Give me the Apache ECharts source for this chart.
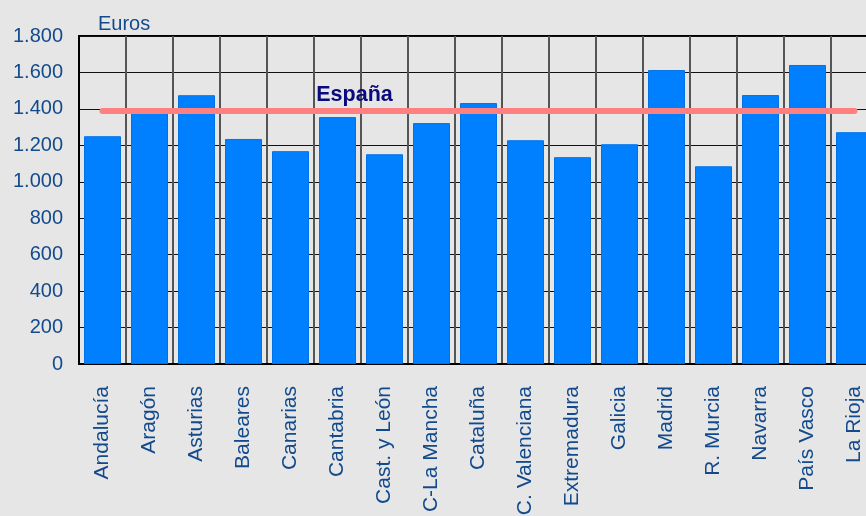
<!DOCTYPE html>
<html>
<head>
<meta charset="utf-8">
<script src="https://cdn.jsdelivr.net/npm/echarts@6/dist/echarts.min.js"></script>
<style>
  html, body { margin: 0; padding: 0; background: #e6e6e6; }
  #chart { width: 866px; height: 516px; }
</style>
</head>
<body>
<div id="chart"></div>
<script>
// comunidades autónomas
const regions = [
  'Andalucía', 'Aragón', 'Asturias', 'Baleares', 'Canarias', 'Cantabria',
  'Cast. y León', 'C-La Mancha', 'Cataluña', 'C. Valenciana', 'Extremadura',
  'Galicia', 'Madrid', 'R. Murcia', 'Navarra', 'País Vasco', 'La Rioja'
]
// euros por comunidad
const euros = [
  1250, 1395, 1475, 1235, 1168, 1355,
  1151, 1322, 1432, 1228, 1135,
  1206, 1613, 1085, 1476, 1641, 1272
]
// media nacional
const espana = 1392
const yTicks = [0, 200, 400, 600, 800, 1000, 1200, 1400, 1600, 1800]

const textColor = '#124a8c'
const font = 'Liberation Sans, Arial, sans-serif'

const chart = echarts.init(document.getElementById('chart'))

chart.setOption({
  backgroundColor: '#e6e6e6',
  animation: false,
  grid: {
    left: 79,
    top: 36,
    bottom: 152,
    width: 799,
    outerBoundsMode: 'none',
    containLabel: false,
    show: true,
    borderColor: '#000',
    borderWidth: 2,
    backgroundColor: 'transparent'
  },
  xAxis: {
    type: 'category',
    data: regions,
    boundaryGap: true,
    axisLine: { show: true, lineStyle: { color: '#000', width: 2 } },
    axisTick: { show: false },
    axisLabel: {
      rotate: 90,
      interval: 0,
      margin: 22,
      color: textColor,
      fontFamily: font,
      fontSize: 21
    },
    splitLine: { show: true, interval: 0, lineStyle: { color: '#555', width: 2 } }
  },
  yAxis: {
    type: 'value',
    min: yTicks[0],
    max: yTicks[yTicks.length - 1],
    interval: 200,
    name: 'Euros',
    nameLocation: 'end',
    nameGap: 2,
    nameTextStyle: {
      color: textColor,
      fontFamily: font,
      fontSize: 20,
      align: 'left',
      padding: [0, 0, 0, 19]
    },
    axisLine: { show: true, lineStyle: { color: '#000', width: 2 } },
    axisTick: { show: false },
    axisLabel: {
      margin: 16,
      color: textColor,
      fontFamily: font,
      fontSize: 20,
      formatter: v => v.toLocaleString('de-DE')
    },
    splitLine: { show: true, lineStyle: { color: '#111', width: 1 } }
  },
  series: [
    {
      name: 'Euros',
      type: 'bar',
      data: euros,
      barWidth: 37,
      itemStyle: { color: '#0080ff', borderColor: '#0072e6', borderWidth: 1 },
      markLine: {
        silent: true,
        symbol: 'none',
        label: { show: false },
        lineStyle: { color: '#ff8080', width: 6, type: 'solid', cap: 'round', opacity: 1 },
        data: [[
          { xAxis: regions[0], yAxis: espana },
          { xAxis: regions[regions.length - 1], yAxis: espana }
        ]]
      },
      markPoint: {
        silent: true,
        symbol: 'circle',
        symbolSize: 1,
        itemStyle: { color: 'rgba(0,0,0,0)' },
        data: [{ xAxis: regions[5], yAxis: espana }],
        label: {
          show: true,
          position: 'inside',
          formatter: 'España',
          offset: [17, -15],
          color: '#0a0a80',
          fontWeight: 'bold',
          fontFamily: font,
          fontSize: 21.5
        }
      }
    }
  ]
})
</script>
</body>
</html>
